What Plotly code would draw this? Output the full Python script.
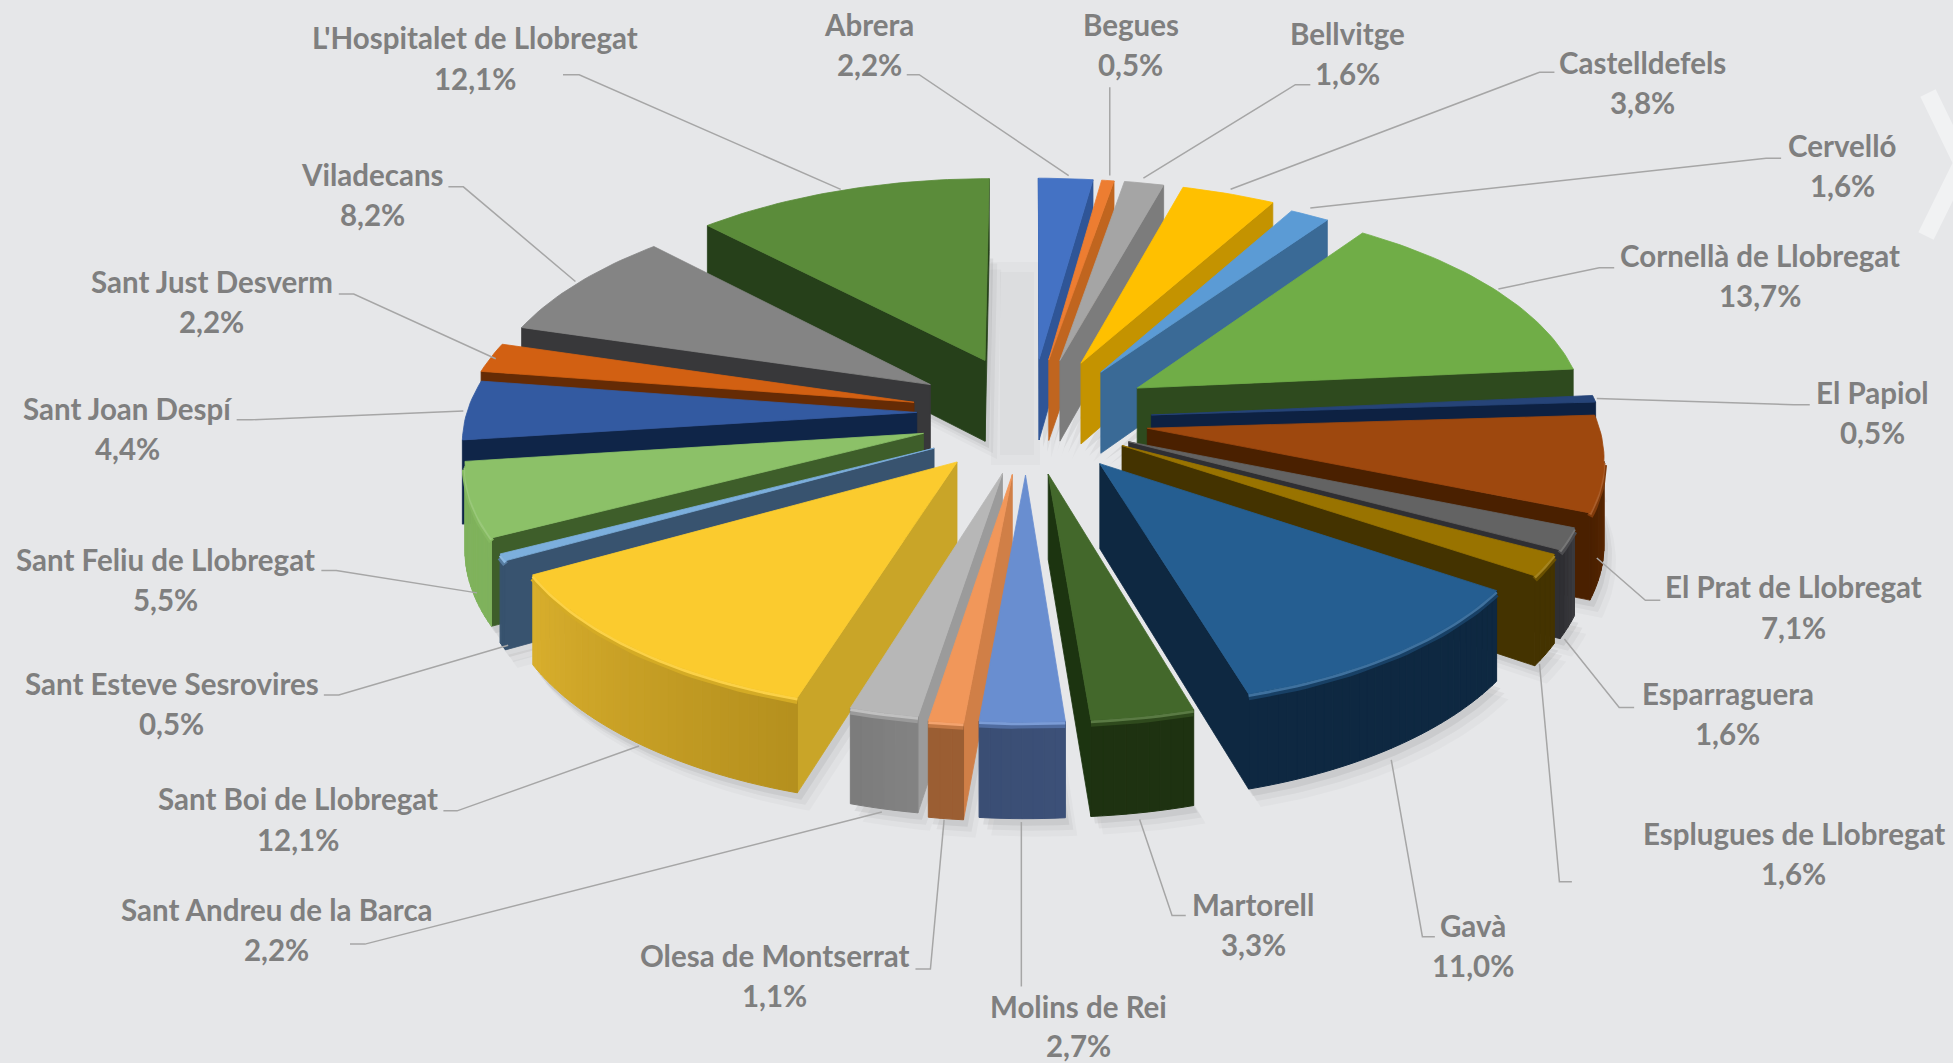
import math
import plotly.graph_objects as go

# ---------- data ----------
names = ["Abrera", "Begues", "Bellvitge", "Castelldefels", "Cervelló", "Cornellà de Llobregat",
         "El Papiol", "El Prat de Llobregat", "Esparraguera", "Esplugues de Llobregat", "Gavà",
         "Martorell", "Molins de Rei", "Olesa de Montserrat", "Sant Andreu de la Barca",
         "Sant Boi de Llobregat", "Sant Esteve Sesrovires", "Sant Feliu de Llobregat",
         "Sant Joan Despí", "Sant Just Desverm", "Viladecans", "L'Hospitalet de Llobregat"]
shares = [2.2, 0.5, 1.6, 3.8, 1.6, 13.7, 0.5, 7.1, 1.6, 1.6, 11.0,
          3.3, 2.7, 1.1, 2.2, 12.1, 0.5, 5.5, 4.4, 2.2, 8.2, 12.1]

# ---------- styles ----------
top_colors = ["#4472C4", "#ED7D31", "#A5A5A5", "#FFC000", "#5B9BD5", "#70AD47",
              "#264478", "#9E480E", "#636363", "#997300", "#255E91",
              "#43682B", "#698ED0", "#F1975A", "#B7B7B7", "#FBCB2E",
              "#7CAFDD", "#8CC168", "#335AA1", "#D26012", "#848484", "#5B8C3A"]
cut_colors = ["#2F5597", "#C0651F", "#7C7C7C", "#C49300", "#3A6A96", "#2E4A1E",
              "#0D2142", "#4A2000", "#2F2F33", "#443300", "#0E2841",
              "#1C3410", "#3A4F78", "#D07F47", "#9B9B9B", "#C9A528",
              "#38536F", "#3E5E2A", "#0F2548", "#652B05", "#38383A", "#26401A"]
wall_start = ["#2F5597", "#C0651F", "#7C7C7C", "#C49300", "#3A6A96", "#2E4A1E",
              "#0D2142", "#6A3008", "#3A3A3E", "#443300", "#0E2841",
              "#1E3211", "#3C5078", "#9B5E33", "#828282", "#B5901E",
              "#38536F", "#7FB25C", "#0F2548", "#652B05", "#38383A", "#26401A"]
wall_end = ["#2F5597", "#C0651F", "#7C7C7C", "#C49300", "#3A6A96", "#2E4A1E",
            "#0D2142", "#4A2000", "#2F2F33", "#443300", "#0E2841",
            "#1E3211", "#3A4E74", "#9B5E33", "#7C7C7C", "#D8AE2C",
            "#38536F", "#7FB25C", "#0F2548", "#652B05", "#38383A", "#26401A"]
BG = "#E6E7E9"
TXT = "#7F7F7F"
LEAD = "#A6A6A6"
S = 1953 / 1568

# per-slice placement corrections (layout, in 1568-wide units)
nudge_x = [1, 1, 4, 6, 8, 6, 4, 1, -7, -8, -1, -3, -3, -2, 0, 2, 7, 5, 3, -2, -1, -2]
nudge_y = [0, 0, 0, 0, 4, 2, 5, 5, 4, 3, 4, 4, 4, 4, 4, 4, 7, 3, 0, 1, 0, -2]
radius_k = [1, 1, 1, 1, 1, 1, 1, 1, 1, 1, .96, .97, .97, .98, .97, .985, 1, 1, 1, 1, 1, 1]

# label centres and leader lines (layout, in 1568-wide units)
label_xy = [(698, 20, 52), (908, 20, 52), (1082, 27, 59), (1319, 50, 82), (1479, 117, 149),
            (1413, 205, 237), (1503, 315, 347), (1440, 471, 504), (1387, 557, 589), (1440, 669, 701),
            (1183, 743, 775), (1006, 726, 758), (866, 808, 839), (622, 767, 799), (222, 730, 762),
            (239, 641, 674), (138, 549, 581), (133, 449, 481), (102, 328, 360), (170, 226, 258),
            (299, 140, 172), (381, 30, 63)]
leaders = [[(728, 60), (738, 60), (858, 141)], [(891, 70), (891, 141)], [(1052, 68), (1040, 68), (918, 143)],
           [(1248, 58), (1236, 58), (988, 152)], [(1430, 127), (1418, 127), (1052, 167)],
           [(1296, 215), (1284, 215), (1203, 232)], [(1453, 325), (1440, 325), (1282, 320)],
           [(1333, 482), (1321, 482), (1282, 448)], [(1312, 568), (1300, 568), (1256, 513)],
           [(1262, 708), (1252, 708), (1236, 533)], [(1152, 752), (1142, 752), (1117, 610)],
           [(952, 735), (941, 735), (915, 658)], [(820, 792), (820, 660)], [(735, 778), (747, 778), (758, 658)],
           [(281, 758), (293, 758), (708, 652)], [(356, 651), (367, 651), (513, 599)],
           [(260, 558), (272, 558), (408, 518)], [(258, 458), (270, 458), (383, 476)],
           [(190, 337), (202, 337), (372, 330)], [(272, 236), (284, 236), (398, 288)],
           [(360, 150), (372, 150), (462, 226)], [(452, 60), (465, 60), (675, 152)]]

# ---------- projection ----------
CX, CY, RX, RY, K, H, EXPLODE = 1030, 413, 450, 213, 0.113, 83, 0.26


def proj(P, z=0.0, n=(0, 0)):
    X, Y = P
    w = 1 + K * Y
    return CX + RX * X / w + n[0] * S, CY - RY * Y / w + z * H / w + n[1] * S


def hex2rgb(c):
    return tuple(int(c[i:i + 2], 16) for i in (1, 3, 5))


def mix(a, b, t):
    ra, rb = hex2rgb(a), hex2rgb(b)
    return "#%02X%02X%02X" % tuple(round(x + (y - x) * t) for x, y in zip(ra, rb))


def lighten(c, t):
    return mix(c, "#FFFFFF", t)


def area(p):
    return sum(p[i][0] * p[(i + 1) % len(p)][1] - p[(i + 1) % len(p)][0] * p[i][1] for i in range(len(p)))


fig = go.Figure()


def poly(pts, color, lw=0.8, opacity=None, lc=None):
    xs = [p[0] for p in pts] + [pts[0][0]]
    ys = [p[1] for p in pts] + [pts[0][1]]
    fig.add_trace(go.Scatter(x=xs, y=ys, mode="lines", fill="toself", fillcolor=color,
                             line=dict(color=lc or color, width=lw), hoverinfo="skip",
                             showlegend=False, opacity=opacity))


def polyline(pts, color, width, dy=0.0):
    fig.add_trace(go.Scatter(x=[p[0] for p in pts], y=[p[1] + dy for p in pts], mode="lines",
                             line=dict(color=color, width=width), hoverinfo="skip", showlegend=False))


# chevron on the right edge
polyline([(1928, 93), (1962, 163), (1926, 236)], "#F1F2F3", 17)

# ---------- slice geometry from the values ----------
total = sum(shares)
geo = []
cum = 0.0
for i, v in enumerate(shares):
    a0 = cum / total * 2 * math.pi
    cum += v
    a1 = cum / total * 2 * math.pi
    mid = (a0 + a1) / 2
    ox, oy = EXPLODE * math.sin(mid), EXPLODE * math.cos(mid)
    n = max(3, int((a1 - a0) / math.radians(1.2)))
    rk = radius_k[i]
    rim = [(ox + rk * math.sin(a0 + (a1 - a0) * j / n), oy + rk * math.cos(a0 + (a1 - a0) * j / n))
           for j in range(n + 1)]
    geo.append(dict(i=i, mid=mid, apex=(ox, oy), rim=rim, n=(nudge_x[i], nudge_y[i])))

# soft shadows under the pie
poly([(991, 262), (1040, 262), (1040, 465), (991, 465)], "#000000", 0, 0.018)
poly([(1000, 272), (1034, 272), (1034, 455), (1000, 455)], "#000000", 0, 0.018)
for dx, dy, op in [(12, 18, 0.025), (8, 12, 0.04), (4, 7, 0.06)]:
    for g in geo:
        pts = [proj(g["apex"], 1, g["n"])] + [proj(r, 1, g["n"]) for r in g["rim"]]
        poly([(x + dx, y + dy) for x, y in pts], "#000000", 0, op)

# ---------- draw back to front ----------
for g in sorted(geo, key=lambda s: -math.cos(s["mid"])):
    i, apex, rim, nn = g["i"], g["apex"], g["rim"], g["n"]
    # cut faces
    for a, b in [(apex, rim[0]), (rim[-1], apex)]:
        q = [proj(a, 0, nn), proj(b, 0, nn), proj(b, 1, nn), proj(a, 1, nn)]
        if area(q) < 0:
            poly(q, cut_colors[i])
    # outer wall, in angular colour steps
    n = len(rim) - 1
    visible = []
    for j in range(n):
        a, b = rim[j], rim[j + 1]
        q = [proj(a, 0, nn), proj(b, 0, nn), proj(b, 1, nn), proj(a, 1, nn)]
        if area(q) < 0:
            poly(q, mix(wall_start[i], wall_end[i], j / max(1, n - 1)), lw=1)
            visible.append(j)
    # bevel along the visible rim edge
    if visible:
        edge = [proj(rim[j], 0, nn) for j in visible] + [proj(rim[visible[-1] + 1], 0, nn)]
        soft = mix(top_colors[i], wall_start[i], 0.55)
        polyline(edge, soft, 6, dy=3.5)
        polyline(edge, lighten(top_colors[i], 0.12), 3, dy=1.5)
    # top face
    poly([proj(apex, 0, nn)] + [proj(r, 0, nn) for r in rim], top_colors[i], lw=0.8)

# ---------- leader lines and labels ----------
for pts in leaders:
    polyline([(x * S, y * S) for x, y in pts], LEAD, 1.5)

annotations = []
for name, v, (lx, ly1, ly2) in zip(names, shares, label_xy):
    txt = f"{v:.1f}%".replace(".", ",")
    for t, yy in ((name, ly1), (txt, ly2)):
        annotations.append(dict(x=lx * S, y=yy * S, xref="x", yref="y", text=t, showarrow=False,
                                xanchor="center", yanchor="middle",
                                font=dict(family="Lato", size=29.5, color=TXT, weight=700)))

fig.update_layout(
    width=1953, height=1063, autosize=False,
    margin=dict(l=0, r=0, t=0, b=0),
    paper_bgcolor=BG, plot_bgcolor=BG,
    xaxis=dict(range=[0, 1953], visible=False, fixedrange=True),
    yaxis=dict(range=[1063, 0], visible=False, fixedrange=True),
    annotations=annotations, showlegend=False,
)
fig.write_html("out.html", config=dict(displayModeBar=False),
               post_script="document.body.style.margin='0';document.body.style.background='%s';" % BG)
